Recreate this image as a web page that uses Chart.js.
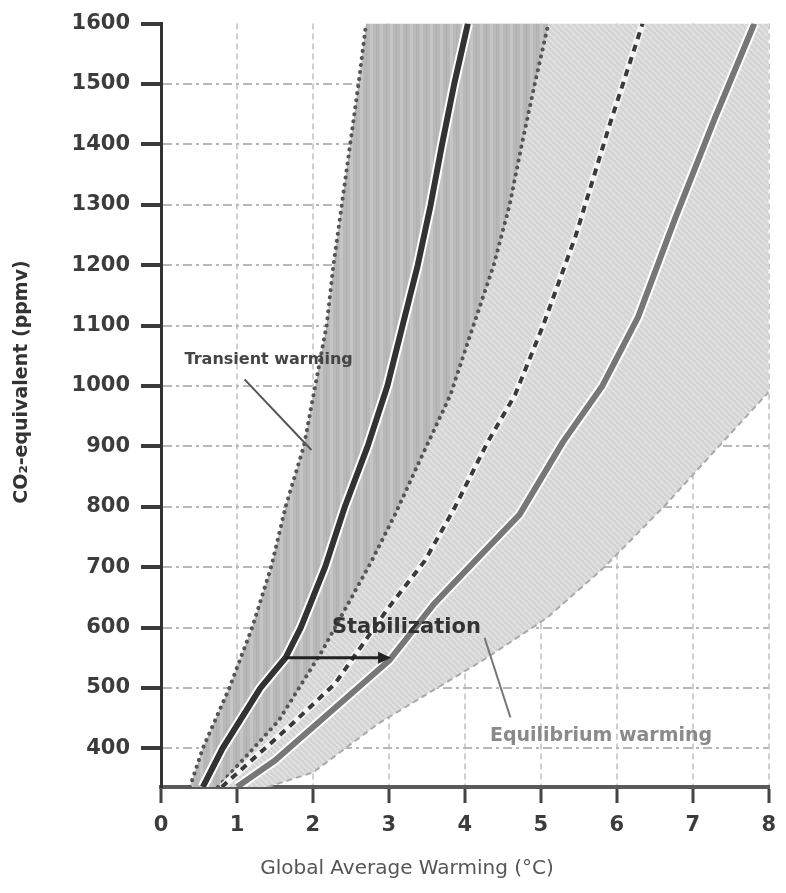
<!DOCTYPE html>
<html>
<head>
<meta charset="utf-8">
<script src="https://cdn.jsdelivr.net/npm/chart.js@4.4.1/dist/chart.umd.min.js"></script>
<style>
  html, body { margin: 0; padding: 0; background: #fff; }
  #wrap { width: 786px; height: 893px; position: relative; }
</style>
</head>
<body>
<div id="wrap"><canvas id="chart"></canvas></div>
<script>
// axis ticks
const xTicks = [0, 1, 2, 3, 4, 5, 6, 7, 8];
const yTicks = [400, 500, 600, 700, 800, 900, 1000, 1100, 1200, 1300, 1400, 1500, 1600];

// transient warming range (dotted bounds) and best estimate (dark line)
const transientLow = [
    {x: 0.38, y: 336}, {x: 0.55, y: 400}, {x: 0.9, y: 500}, {x: 1.2, y: 600}, {x: 1.45, y: 700},
    {x: 1.64, y: 800}, {x: 1.88, y: 900}, {x: 2.03, y: 1000}, {x: 2.18, y: 1100}, {x: 2.27, y: 1200},
    {x: 2.38, y: 1300}, {x: 2.49, y: 1400}, {x: 2.6, y: 1500}, {x: 2.7, y: 1600}
];
const transientMid = [
    {x: 0.55, y: 336}, {x: 0.81, y: 400}, {x: 1.31, y: 500}, {x: 1.64, y: 550}, {x: 1.84, y: 600},
    {x: 2.16, y: 700}, {x: 2.42, y: 800}, {x: 2.72, y: 900}, {x: 2.98, y: 1000}, {x: 3.18, y: 1100},
    {x: 3.38, y: 1200}, {x: 3.55, y: 1300}, {x: 3.7, y: 1400}, {x: 3.86, y: 1500}, {x: 4.04, y: 1600}
];
const transientHigh = [
    {x: 0.75, y: 336}, {x: 1.55, y: 446}, {x: 2.12, y: 561}, {x: 2.76, y: 707}, {x: 3.08, y: 787},
    {x: 3.42, y: 880}, {x: 3.81, y: 985}, {x: 4.06, y: 1080}, {x: 4.38, y: 1200}, {x: 4.59, y: 1300},
    {x: 4.75, y: 1400}, {x: 4.92, y: 1500}, {x: 5.1, y: 1600}
];

// equilibrium warming: dashed line, best estimate, outer bound
const equilDashed = [
    {x: 0.8, y: 336}, {x: 1.68, y: 435}, {x: 2.29, y: 507}, {x: 2.99, y: 632}, {x: 3.47, y: 710},
    {x: 3.86, y: 797}, {x: 4.3, y: 907}, {x: 4.66, y: 985}, {x: 5.03, y: 1100}, {x: 5.46, y: 1249},
    {x: 5.9, y: 1430}, {x: 6.34, y: 1600}
];
const equilMid = [
    {x: 1.0, y: 336}, {x: 1.5, y: 380}, {x: 2.0, y: 435}, {x: 3.0, y: 545}, {x: 3.6, y: 640},
    {x: 4.72, y: 787}, {x: 5.29, y: 907}, {x: 5.81, y: 1000}, {x: 6.28, y: 1114},
    {x: 6.77, y: 1278}, {x: 7.29, y: 1443}, {x: 7.81, y: 1600}
];
const equilHigh = [
    {x: 1.4, y: 336}, {x: 2.0, y: 360}, {x: 2.86, y: 441}, {x: 4.29, y: 550}, {x: 5.08, y: 616},
    {x: 5.82, y: 698}, {x: 6.64, y: 803}, {x: 7.43, y: 912}, {x: 8.0, y: 990}
];

// annotations
const stabilArrow = [{x: 1.64, y: 550}, {x: 2.95, y: 550}];
const transientLeader = [{x: 1.10, y: 1011}, {x: 1.98, y: 894}];
const equilLeader = [{x: 4.26, y: 583}, {x: 4.6, y: 451}];
const labels = [
    {text: 'Transient warming', x: 0.31, y: 1044, font: 'bold 16px "DejaVu Sans"', color: '#444'},
    {text: 'Stabilization', x: 2.25, y: 600, font: 'bold 21px "DejaVu Sans"', color: '#333'},
    {text: 'Equilibrium warming', x: 4.33, y: 421, font: 'bold 19px "DejaVu Sans"', color: '#8a8a8a'}
];

function makePattern(w, h, draw) {
    const c = document.createElement('canvas');
    c.width = w; c.height = h;
    const g = c.getContext('2d');
    draw(g);
    return g.createPattern(c, 'repeat');
}

const stripes = makePattern(10, 10, g => {
    g.fillStyle = '#b8b8b8';
    g.fillRect(0, 0, 10, 10);
    g.fillStyle = '#c5c5c5';
    g.fillRect(0, 0, 3, 10);
    g.fillStyle = '#b0b0b0';
    g.fillRect(6, 0, 1, 10);
});
const hatch = makePattern(6, 6, g => {
    g.fillStyle = '#d4d4d4';
    g.fillRect(0, 0, 6, 6);
    g.strokeStyle = '#e4e4e4';
    g.lineWidth = 1.5;
    [-6, 0, 6].forEach(o => {
        g.beginPath();
        g.moveTo(o, 0);
        g.lineTo(o + 6, 6);
        g.stroke();
    });
});

// closed outlines for the two shaded ranges
const transientBand = transientLow.concat(transientHigh.slice().reverse());
const equilBand = transientMid.concat([{x: 8, y: 1600}], equilHigh.slice().reverse());

function line(data, color, width, order, extra) {
    return Object.assign({
        data, borderColor: color, borderWidth: width, order,
        pointRadius: 0, tension: 0, borderJoinStyle: 'round', fill: false
    }, extra || {});
}

const overlay = {
    id: 'overlay',
    afterDatasetsDraw(chart) {
        const {ctx, scales: {x, y}} = chart;
        ctx.save();
        ctx.textBaseline = 'middle';
        ctx.textAlign = 'left';
        labels.forEach(l => {
            ctx.font = l.font;
            ctx.fillStyle = l.color;
            ctx.fillText(l.text, x.getPixelForValue(l.x), y.getPixelForValue(l.y));
        });

        // arrow head
        const tip = stabilArrow[1];
        const px = x.getPixelForValue(tip.x) + 6;
        const py = y.getPixelForValue(tip.y);
        ctx.fillStyle = '#222';
        ctx.beginPath();
        ctx.moveTo(px, py);
        ctx.lineTo(px - 13, py - 6);
        ctx.lineTo(px - 13, py + 6);
        ctx.closePath();
        ctx.fill();

        // axis titles
        ctx.textAlign = 'center';
        ctx.font = '20px "DejaVu Sans"';
        ctx.fillStyle = '#555';
        ctx.fillText('Global Average Warming (°C)', 407, 869);

        ctx.translate(22, 382);
        ctx.rotate(-Math.PI / 2);
        ctx.font = 'bold 19px "DejaVu Sans"';
        ctx.fillStyle = '#333';
        ctx.fillText('CO₂-equivalent (ppmv)', 0, 0);
        ctx.restore();
    }
};

new Chart(document.getElementById('chart'), {
    type: 'line',
    data: {
        datasets: [
            line(stabilArrow, '#222', 3, 0),
            line(transientLeader, '#555', 2, 1),
            line(equilLeader, '#777', 2, 1),
            line(transientMid, '#333', 6, 2),
            line(transientMid, '#fff', 10, 3),
            line(equilMid, '#777', 6, 4),
            line(equilMid, '#fff', 10, 5),
            line(equilDashed, '#3a3a3a', 4, 6, {borderDash: [7, 6]}),
            line(equilDashed, '#f4f4f4', 7, 7),
            line(transientLow, '#555', 4, 8, {borderDash: [0.1, 7], borderCapStyle: 'round'}),
            line(transientHigh, '#555', 4, 9, {borderDash: [0.1, 7], borderCapStyle: 'round'}),
            line(equilHigh, '#aaa', 2, 10, {borderDash: [6, 4]}),
            line(transientBand, 'rgba(0,0,0,0)', 0, 11, {fill: 'shape', backgroundColor: stripes}),
            line(equilBand, 'rgba(0,0,0,0)', 0, 12, {fill: 'shape', backgroundColor: hatch})
        ]
    },
    options: {
        responsive: true,
        maintainAspectRatio: false,
        animation: false,
        layout: { padding: { top: 20, right: 12, left: 0, bottom: 0 } },
        plugins: { legend: { display: false }, tooltip: { enabled: false } },
        scales: {
            x: {
                type: 'linear',
                min: 0,
                max: 8,
                afterBuildTicks: s => { s.ticks = xTicks.map(v => ({value: v})); },
                afterFit: s => { s.height = 106; },
                grid: {
                    color: c => (c.tick && c.tick.value === 0) ? 'rgba(0,0,0,0)' : '#cfcfcf',
                    lineWidth: 2,
                    tickLength: 16,
                    tickColor: '#444',
                    tickWidth: 3,
                    tickBorderDash: []
                },
                border: { display: true, color: '#5a5a5a', width: 4, dash: [6, 4] },
                ticks: {
                    padding: 10,
                    color: '#3c3c3c',
                    font: { family: 'DejaVu Sans', size: 21, weight: 'bold' },
                    callback: v => String(v)
                }
            },
            y: {
                type: 'linear',
                min: 336,
                max: 1600,
                afterBuildTicks: s => { s.ticks = yTicks.map(v => ({value: v})); },
                afterFit: s => { s.width = 161; },
                grid: {
                    color: c => (c.tick && c.tick.value === 1600) ? 'rgba(0,0,0,0)' : '#b8b8b8',
                    lineWidth: 2,
                    tickLength: 20,
                    tickColor: '#3a3a3a',
                    tickWidth: 4,
                    tickBorderDash: []
                },
                border: { display: true, color: '#333', width: 3, dash: [9, 4, 3, 4] },
                ticks: {
                    padding: 11,
                    color: '#3c3c3c',
                    font: { family: 'DejaVu Sans', size: 21, weight: 'bold' },
                    callback: v => String(v)
                }
            }
        }
    },
    plugins: [overlay]
});
</script>
</body>
</html>
